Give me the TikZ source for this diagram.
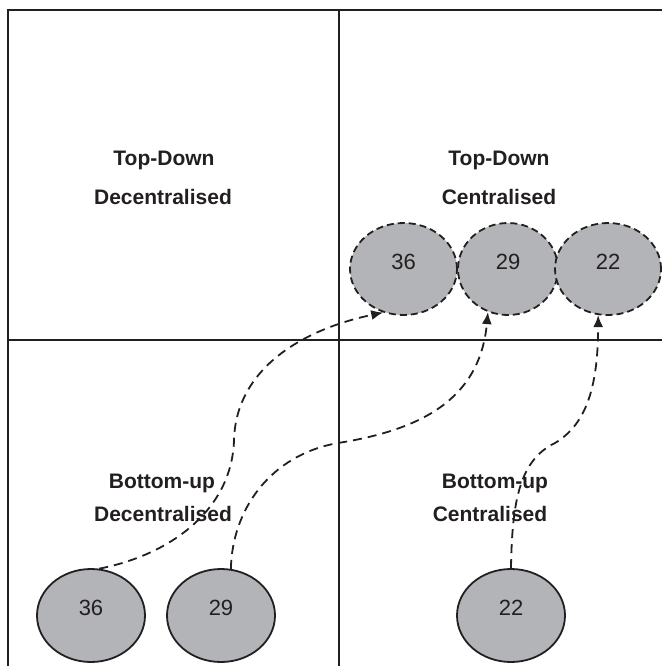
\documentclass[tikz,border=0pt]{standalone}
\usepackage{fontspec}
\setmainfont{Liberation Sans}
\usetikzlibrary{shapes.geometric,arrows.meta}
\definecolor{ovalgray}{RGB}{179,180,184}
\definecolor{inkdark}{RGB}{35,31,32}
\tikzset{
  frameline/.style={draw=inkdark,line width=1.6pt},
  quadlabel/.style={anchor=base,inner sep=0pt,text=inkdark,font=\fontsize{21}{25}\selectfont\bfseries},
  oval/.style={ellipse,fill=ovalgray,draw=inkdark,line width=1.8pt,inner sep=0pt,
     minimum width=108pt,minimum height=93pt,text=inkdark,
     font=\fontsize{22}{26}\selectfont,text height=15pt,text depth=15pt},
  dashedoval/.style={oval,dash pattern=on 7pt off 4pt},
  moveline/.style={draw=inkdark,line width=1.8pt,dash pattern=on 9pt off 6pt,
     -{Latex[length=12pt,width=10pt]}}
}
\begin{document}
\begin{tikzpicture}[x=1pt,y=-1pt]
\useasboundingbox (0,0) rectangle (662,666);
% frame
\draw[frameline] (8,666) -- (8,10) -- (662,10);
\draw[frameline] (339,10) -- (339,666);
\draw[frameline] (8,340) -- (662,340);
% quadrant labels
\node[quadlabel] (tdl1) at (164,165) {Top-Down};
\node[quadlabel] (tdl2) at (163,204) {Decentralised};
\node[quadlabel] (tdr1) at (499,165) {Top-Down};
\node[quadlabel] (tdr2) at (499,204) {Centralised};
\node[quadlabel] (bul1) at (162,488) {Bottom-up};
\node[quadlabel] (bul2) at (163,521) {Decentralised};
\node[quadlabel] (bur1) at (495,488) {Bottom-up};
\node[quadlabel] (bur2) at (490,521) {Centralised};
% top ovals
\node[dashedoval,minimum width=107pt,minimum height=92pt] (t36) at (403.5,269) {36};
\node[dashedoval,minimum width=100pt,minimum height=92pt] (t29) at (508,269) {29};
\node[dashedoval,minimum width=106pt,minimum height=92pt] (t22) at (608,269) {22};
% bottom ovals
\node[oval] (b36) at (91,615.5) {36};
\node[oval] (b29) at (221,615.5) {29};
\node[oval] (b22) at (511,615.5) {22};
% connectors
\draw[moveline] (b36.80) .. controls (170,555) and (232,510) .. (234,440)
   .. controls (236,370) and (300,330) .. (t36.245);
\draw[moveline] (b29.78) .. controls (232,510) and (270,455) .. (338,443)
   .. controls (420,430) and (480,400) .. (t29.245);
\draw[moveline] (b22.north) .. controls (512,500) and (520,460) .. (555,443)
   .. controls (585,425) and (598,390) .. (t22.258);
\end{tikzpicture}
\end{document}
